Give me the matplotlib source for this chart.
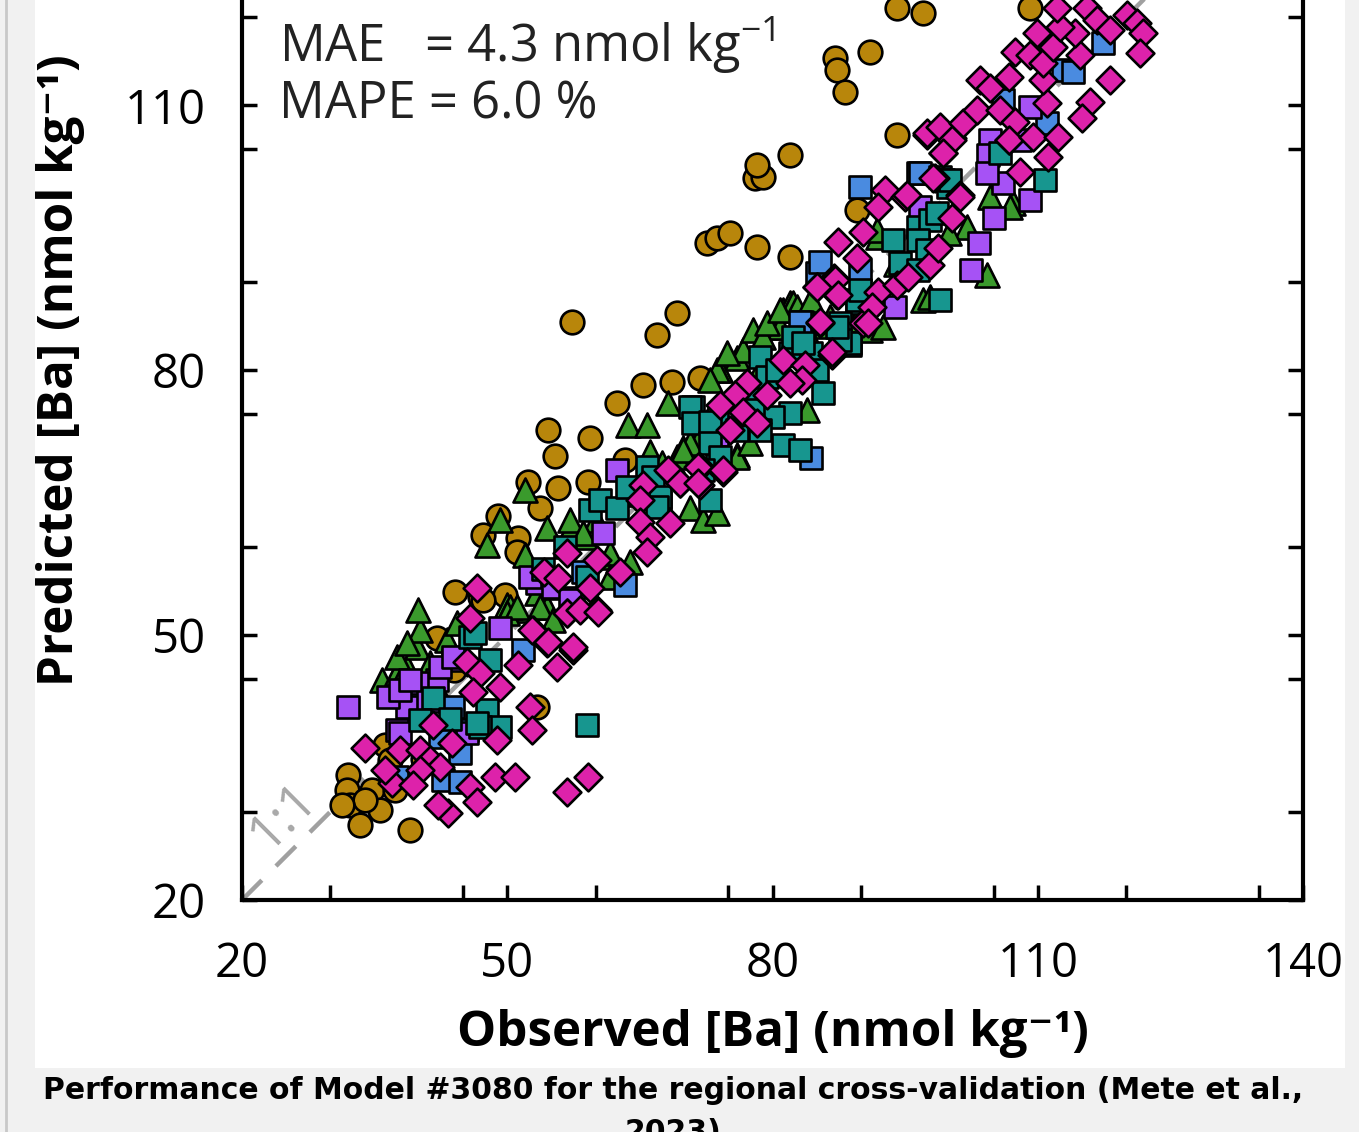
import matplotlib
matplotlib.use("Agg")
import matplotlib.pyplot as plt
from matplotlib.patches import Rectangle
from matplotlib.lines import Line2D
from matplotlib.ticker import MultipleLocator

plt.rcParams['font.family'] = ['Open Sans', 'DejaVu Sans']
plt.rcParams['mathtext.fontset'] = 'custom'
plt.rcParams['mathtext.rm'] = 'Open Sans'

# region groups (observed, predicted in nmol/kg)
gold_x = [32.0, 31.9, 32.2, 33.3, 34.7, 36.2, 37.3, 39.0, 35.6, 33.9, 31.3, 36.7, 42.1, 44.1,
          46.9, 49.8, 47.3, 53.4, 47.3, 51.2, 51.1, 53.7, 52.4, 55.7, 59.1, 55.4, 54.6, 59.4,
          63.3, 62.4, 65.4, 68.6, 71.8, 66.9, 69.2, 57.3, 72.6, 73.7, 75.2, 78.3, 82.0, 78.0,
          78.9, 78.3, 82.0, 89.6, 94.1, 87.1, 87.3, 88.2, 91.0, 94.1, 97.0, 109.1, 40.5, 44.0, 49.0]
gold_y = [34.2, 32.5, 30.8, 28.5, 32.5, 37.6, 32.5, 27.9, 30.2, 31.3, 30.8, 35.9, 49.7, 54.9,
          54.3, 54.5, 54.0, 41.9, 61.3, 61.0, 59.4, 64.4, 67.3, 66.7, 67.3, 70.3, 73.2, 72.3,
          69.8, 76.3, 78.3, 78.7, 79.1, 84.0, 86.5, 85.5, 94.4, 95.0, 95.5, 94.0, 92.8, 101.8,
          101.9, 103.2, 104.4, 98.1, 106.6, 115.4, 114.0, 111.5, 116.0, 121.0, 120.5, 121.0, 36.0, 46.0, 63.5]

green_x = [35.8, 37.5, 38.7, 39.8, 40.1, 39.9, 43.2, 44.3, 50.0, 51.1, 53.4, 47.7, 49.2, 52.0,
           52.0, 54.5, 57.1, 58.8, 61.6, 63.9, 54.5, 50.3, 63.7, 65.8, 66.2, 68.2, 69.9, 70.7,
           72.1, 71.8, 74.1, 76.0, 76.0, 76.7, 77.8, 80.5, 81.2, 82.0, 80.9, 82.3, 83.9, 89.9,
           91.0, 91.9, 92.5, 97.0, 104.3, 104.6, 107.2, 60.0, 66.0, 73.0, 78.0, 86.0, 45.0, 42.0,
           70.7, 73.7, 72.9, 74.9, 78.9, 79.4, 82.8, 84.3, 76.0, 77.5, 69.2, 67.3, 57.1, 58.6,
           61.6, 69.9, 73.7, 53.7, 61.6, 50.0, 51.1, 55.2, 37.5, 38.7, 41.3, 91.8, 102.0, 97.8,
           89.6, 80.9, 83.9, 106.9, 64.5, 67.5, 75.5, 86.5, 94.0, 100.0]
green_y = [44.9, 45.7, 46.4, 48.7, 50.6, 52.8, 49.4, 51.4, 53.4, 52.8, 54.8, 60.2, 63.0, 66.4,
           59.1, 62.1, 61.9, 61.1, 58.8, 58.3, 53.2, 53.2, 73.8, 73.8, 70.7, 76.3, 71.2, 64.4,
           63.0, 72.4, 80.0, 70.4, 81.4, 82.3, 84.6, 84.9, 86.8, 87.6, 84.9, 87.6, 75.5, 89.4,
           84.6, 95.1, 84.9, 88.0, 90.8, 99.6, 98.9, 63.0, 67.5, 75.0, 79.0, 85.0, 48.0, 44.0,
           71.8, 80.0, 78.9, 81.9, 83.8, 85.3, 87.2, 87.9, 70.2, 71.8, 70.2, 68.7, 63.0, 61.6,
           59.3, 71.0, 63.8, 53.2, 56.6, 52.5, 53.2, 51.7, 47.5, 49.1, 46.8, 95.9, 96.2, 88.3,
           85.7, 86.8, 84.2, 98.5, 66.0, 69.5, 77.0, 86.0, 92.0, 95.5]

teal_x = [41.6, 45.8, 47.7, 49.2, 46.9, 40.1, 59.0, 48.1, 46.4, 59.4, 60.5, 62.4, 65.8, 67.3,
          73.3, 73.7, 59.0, 71.0, 78.6, 82.0, 88.8, 85.7, 82.0, 81.2, 83.1, 73.7, 80.1, 84.3,
          89.6, 87.6, 82.3, 96.4, 98.9, 98.9, 88.8, 89.6, 94.4, 97.8, 110.8, 105.7, 99.3, 98.6,
          54.0, 56.5, 77.0, 43.5,
          70.7, 71.0, 72.9, 77.8, 77.8, 79.4, 80.5, 84.3, 85.0, 87.6, 78.6, 76.0, 72.9, 74.1,
          72.1, 66.5, 63.6, 67.3, 66.9, 72.9, 46.6, 93.6, 96.4, 97.5, 96.4, 89.9, 87.3, 83.5,
          99.8, 100.1]
teal_y = [42.9, 49.8, 41.5, 39.6, 39.6, 40.4, 39.8, 47.2, 50.2, 64.2, 65.3, 64.4, 69.0, 65.0,
          74.0, 70.2, 56.6, 75.8, 81.5, 81.9, 82.9, 77.4, 75.2, 71.5, 71.0, 74.0, 74.7, 80.0,
          87.6, 85.3, 83.8, 96.2, 101.9, 88.0, 83.1, 88.0, 92.1, 97.0, 101.5, 104.6, 101.5, 97.8,
          57.5, 60.0, 77.5, 40.5,
          75.8, 74.0, 74.1, 77.8, 75.5, 79.2, 80.0, 81.9, 80.0, 83.4, 73.2, 73.2, 71.8, 70.2,
          68.7, 67.9, 66.8, 65.6, 64.5, 65.3, 40.0, 94.7, 94.7, 93.6, 91.3, 89.1, 84.9, 83.1,
          100.7, 101.5]

blue_x = [51.8, 42.7, 44.7, 37.5, 43.9, 45.5, 63.3, 58.6, 83.3, 84.3, 85.0, 89.9, 96.5, 85.4,
          89.9, 83.1, 117.4, 112.9, 114.0, 111.1, 106.1, 96.7, 39.0, 42.4, 44.7]
blue_y = [48.3, 33.6, 33.4, 33.9, 41.9, 39.3, 55.7, 57.1, 85.5, 70.1, 91.0, 100.7, 102.3, 92.3,
          91.3, 85.5, 117.1, 114.0, 113.8, 108.0, 110.6, 102.3, 41.2, 38.5, 36.6]

purple_x = [32.0, 49.2, 42.1, 38.7, 37.5, 39.8, 45.5, 43.9, 55.2, 53.4, 57.4, 62.4, 60.8, 55.2,
            57.1, 52.6, 73.7, 105.0, 103.3, 102.4, 106.1, 93.9, 104.6, 104.4, 109.1, 104.3, 108.0,
            109.1, 96.7, 36.5, 41.0, 37.9, 39.0, 42.4, 43.9, 37.9]
purple_y = [41.9, 50.8, 44.9, 41.9, 39.3, 44.6, 38.9, 47.2, 55.3, 55.9, 54.2, 68.7, 61.6, 55.4,
            54.0, 56.6, 72.1, 97.2, 94.4, 91.3, 101.2, 87.2, 106.1, 104.4, 99.3, 102.3, 106.1,
            109.8, 98.5, 43.0, 42.5, 43.8, 44.9, 46.4, 47.5, 38.9]

magenta_x = [46.6, 45.8, 52.9, 56.8, 60.2, 54.5, 57.4, 55.6, 51.2, 45.5, 46.9, 46.1, 49.2, 52.6,
             52.8, 48.8, 41.6, 43.8, 37.9, 40.1, 41.3, 42.4, 40.1, 37.0, 39.3, 45.8, 46.6, 43.3,
             42.2, 48.6, 50.9, 56.8, 59.1, 33.9, 36.2,
             68.4, 71.8, 69.5, 65.4, 65.0, 71.8, 74.4, 65.0, 68.4, 66.2, 65.8, 56.8, 60.2, 54.1,
             55.7, 62.8, 59.4, 56.8, 58.2, 60.3, 52.8, 54.6, 57.4,
             85.0, 87.3, 86.9, 85.4, 86.7, 81.2, 83.7, 83.3, 77.1, 75.8, 74.1, 79.4, 76.7, 75.2,
             78.3, 82.0, 68.2, 69.5, 71.6, 74.4, 71.6, 90.2,
             92.7, 95.0, 91.9, 90.2, 87.4, 89.6, 87.1, 85.0, 87.4, 91.9, 91.3, 94.1, 95.3, 97.8,
             98.7, 100.3, 101.2, 98.4, 99.3, 100.3, 97.5, 106.7, 85.4, 90.8, 86.7,
             97.5, 99.0, 100.3, 99.3, 101.6, 103.1, 103.5, 104.6, 106.7, 105.7, 107.4, 106.7, 109.5,
             112.3, 111.1, 110.6, 107.4, 109.1, 110.6, 109.9, 111.7, 114.8, 114.2, 112.5, 112.2,
             115.6, 116.7, 118.2, 120.1, 121.2, 121.9, 121.6, 118.2, 115.9, 115.0, 111.2, 108.0,
             98.2, 101.2, 95.2]
magenta_y = [55.3, 51.9, 50.6, 52.5, 52.8, 49.1, 48.3, 46.4, 46.6, 47.0, 45.7, 43.6, 44.1, 41.9,
             39.3, 38.1, 39.8, 37.8, 37.0, 37.0, 35.9, 35.1, 34.7, 33.3, 33.0, 32.8, 31.1, 29.9,
             30.8, 33.9, 33.9, 32.2, 33.9, 37.2, 34.7,
             68.5, 69.0, 67.2, 67.0, 65.3, 67.0, 68.5, 62.8, 62.7, 61.1, 59.4, 59.3, 58.5, 57.1,
             56.5, 57.1, 55.3, 52.5, 52.8, 52.6, 50.6, 49.2, 48.7,
             89.4, 88.5, 90.4, 85.3, 81.7, 81.2, 80.6, 78.9, 78.5, 77.2, 76.1, 77.2, 75.3, 73.2,
             74.0, 78.5, 68.7, 67.2, 69.0, 68.7, 67.2, 85.3,
             100.4, 99.6, 98.5, 95.7, 94.5, 92.7, 90.2, 89.4, 88.5, 88.9, 87.2, 89.6, 90.6, 91.9,
             93.8, 97.2, 99.8, 101.8, 104.6, 106.3, 106.6, 106.1, 85.5, 85.3, 82.1,
             106.9, 107.5, 106.1, 104.6, 108.0, 109.5, 112.9, 112.0, 113.2, 109.5, 108.1, 106.1, 106.4,
             106.4, 110.3, 112.9, 116.0, 115.7, 114.8, 118.2, 116.6, 115.7, 118.2, 118.9, 121.0,
             121.0, 119.7, 118.5, 120.2, 119.3, 118.2, 115.9, 112.9, 110.4, 108.6, 104.1, 102.4,
             101.8, 99.6, 99.8]

axis_min, axis_max = 20, 140
tick_vals = [20, 50, 80, 110, 140]

W, H = 1359, 1132
fig = plt.figure(figsize=(W / 100, H / 100), dpi=100, facecolor='#f1f1f1')

# white panel of the screenshot and its left border line
fig.patches.append(Rectangle((35 / W, 1 - 1068 / H), (1345 - 35) / W, 1068 / H,
                             transform=fig.transFigure, facecolor='white', edgecolor='none', zorder=-10))
fig.lines.append(Line2D([6 / W, 6 / W], [0, 1], transform=fig.transFigure, color='#c8c8c8', lw=2,
                        zorder=-10))

# axes run off the top of the crop
ax = fig.add_axes([242 / W, 1 - 900 / H, (1303 - 242) / W, 120 * 8.83 / H])
ax.set_zorder(1)
ax.patch.set_alpha(0)
ax.set_xlim(axis_min, axis_max)
ax.set_ylim(axis_min, axis_max)

ax.plot([axis_min, axis_max], [axis_min, axis_max], color='#a0a0a0', lw=3.2,
        dashes=(6.3, 4.5), zorder=1)
ax.text(24.6, 29.4, '1:1', rotation=45, color='#a8a8a8', fontsize=37,
        ha='center', va='center', zorder=1)

mk = dict(edgecolors='black', linewidths=1.9, zorder=3)
ax.scatter(gold_x, gold_y, s=290, marker='o', c='#b8860b', **mk)
ax.scatter(green_x, green_y, s=300, marker='^', c='#3a9a2c', **mk)
ax.scatter(blue_x, blue_y, s=270, marker='s', c='#4a8be0', **mk)
ax.scatter(purple_x, purple_y, s=270, marker='s', c='#a652f5', **mk)
ax.scatter(teal_x, teal_y, s=270, marker='s', c='#17968f', **mk)
ax.scatter(magenta_x, magenta_y, s=200, marker='D', c='#dd22aa', **mk)

ax.set_xticks(tick_vals)
ax.set_yticks(tick_vals)
ax.xaxis.set_minor_locator(MultipleLocator(15))
ax.yaxis.set_minor_locator(MultipleLocator(15))
ax.tick_params(which='both', direction='in', length=11, width=2.5,
               top=True, right=True, labelsize=34, colors='black')
ax.tick_params(axis='x', pad=29)
ax.tick_params(axis='y', pad=26)
for sp in ax.spines.values():
    sp.set_linewidth(3)

ax.set_xlabel('Observed [Ba] (nmol kg\u207b\u00b9)', fontsize=35.5, fontweight='bold')
ax.set_ylabel('Predicted [Ba] (nmol kg\u207b\u00b9)', fontsize=35.5, fontweight='bold')
ax.xaxis.set_label_coords(0.5, -0.103)
ax.yaxis.set_label_coords(-0.148, 0.5)

ax.text(24.2, 116.8, 'MAE   = 4.3 nmol kg$^{-1}$', fontsize=36.5, ha='left', va='center', color='#222222')
ax.text(24.2, 110.0, 'MAPE = 6.0 %', fontsize=36.5, ha='left', va='center', color='#222222')

fig.text(0.495, 1 - 1076 / H,
         'Performance of Model #3080 for the regional cross-validation (Mete et al.,\n2023)',
         ha='center', va='top', fontsize=21.5, fontweight='bold', family='DejaVu Sans',
         linespacing=1.55)

fig.savefig('out.png', dpi=100, facecolor=fig.get_facecolor())
